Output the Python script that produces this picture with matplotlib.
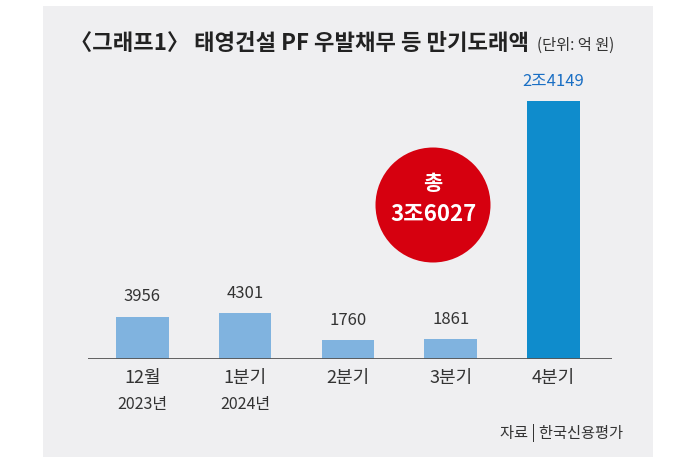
import matplotlib.pyplot as plt
from matplotlib.patches import Rectangle, Ellipse

plt.rcParams['font.family'] = ['Noto Sans CJK KR', 'DejaVu Sans']

categories = ['12월', '1분기', '2분기', '3분기', '4분기']
years = ['2023년', '2024년', '', '', '']
values = [3956, 4301, 1760, 1861, 24149]
value_labels = ['3956', '4301', '1760', '1861', '2조4149']
total_label = '3조6027'

W, H = 700, 459
fig = plt.figure(figsize=(W / 100, H / 100), dpi=100)
fig.patch.set_facecolor('white')

# grey panel
fig.add_artist(Rectangle((43 / W, 2 / H), 610 / W, 451 / H, transform=fig.transFigure,
                         facecolor='#efeff1', edgecolor='none', zorder=0))

# bar axes: baseline at y=359px, tallest bar top at 101px
ax = fig.add_axes([88 / W, (H - 359) / H, 524 / W, 258 / H])
ax.set_facecolor('none')
x = list(range(len(values)))
colors = ['#80b3df'] * 4 + ['#0f8ccc']
ax.bar(x, values, width=0.51, color=colors, zorder=2)
ax.set_xlim(-0.53, 4.57)
ax.set_ylim(0, max(values))
ax.axhline(0, color='#555555', linewidth=1.3, zorder=3)
for s in ax.spines.values():
    s.set_visible(False)
ax.set_xticks([])
ax.set_yticks([])

for i, v in enumerate(values):
    c = '#1a6fc4' if i == 4 else '#333333'
    ax.annotate(value_labels[i], (i, v), xytext=(0, 20), textcoords='offset pixels',
                ha='center', va='center', fontsize=12, color=c, annotation_clip=False)
    ax.annotate(categories[i], (i, 0), xytext=(0, -19), textcoords='offset pixels',
                ha='center', va='center', fontsize=13, color='#333333', annotation_clip=False)
    if years[i]:
        ax.annotate(years[i], (i, 0), xytext=(0, -46), textcoords='offset pixels',
                    ha='center', va='center', fontsize=11.5, color='#333333', annotation_clip=False)

# title
fig.text(70 / W, 1 - 43 / H, '〈그래프1〉 태영건설 PF 우발채무 등 만기도래액', fontsize=16,
         fontweight='bold', color='#222222', ha='left', va='center')
fig.text(537 / W, 1 - 45 / H, '(단위: 억 원)', fontsize=11, color='#333333',
         ha='left', va='center')

# total circle
fig.add_artist(Ellipse((433 / W, 1 - 205 / H), 115 / W, 115 / H, transform=fig.transFigure,
                       facecolor='#d6000f', edgecolor='none', zorder=4))
fig.text(433 / W, 1 - 183 / H, '총', fontsize=15, fontweight='bold', color='white',
         ha='center', va='center', zorder=5)
fig.text(433 / W, 1 - 215 / H, total_label, fontsize=16, fontweight='bold', color='white',
         ha='center', va='center', zorder=5)

# source
fig.text(623 / W, 1 - 433 / H, '자료 | 한국신용평가', fontsize=11, color='#333333',
         ha='right', va='center')

fig.savefig('out.png', dpi=100)
